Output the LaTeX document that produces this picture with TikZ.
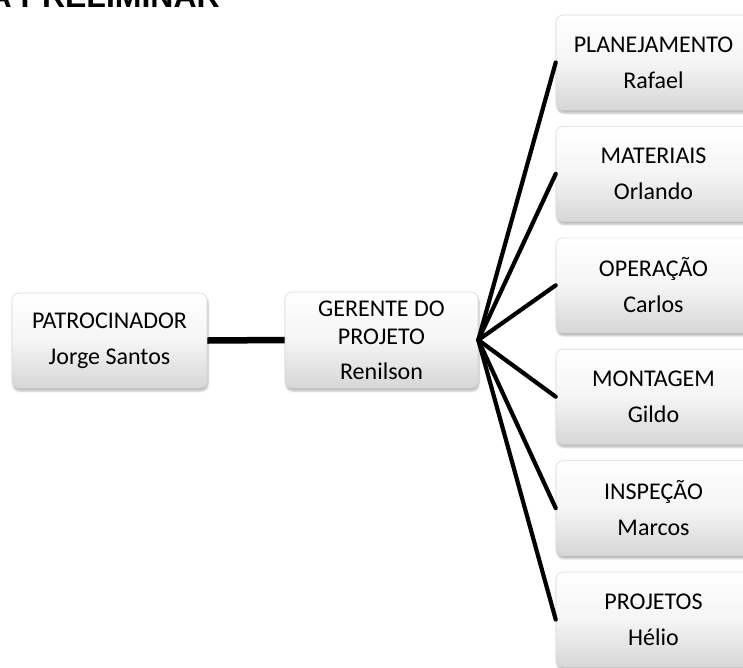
\documentclass[tikz,border=0pt]{standalone}
\usepackage{fontspec}
\setmainfont{Carlito}
\newfontfamily\headfont{Liberation Sans}
\usetikzlibrary{shadows,shadows.blur}

\tikzset{
  orgbox/.style={
    rectangle, rounded corners=7pt,
    minimum width=195pt, minimum height=95pt,
    top color=white, bottom color=gray!32,
    middle color=gray!8,
    draw=gray!30, line width=0.6pt,
    blur shadow={shadow xshift=1pt, shadow yshift=-3pt, shadow blur steps=6, shadow opacity=28},
    align=center, inner sep=0pt,
    font=\fontsize{24}{28}\selectfont
  },
  trunk/.style={line width=6.5pt},
  branch/.style={line width=4.2pt, line cap=round}
}

\begin{document}
\begin{tikzpicture}[x=1pt, y=-1pt]
  \useasboundingbox (0,0) rectangle (743,667);

  % heading, mostly above the visible page
  \node[anchor=base east, inner sep=0pt,
        font=\headfont\bfseries\fontsize{32}{32}\selectfont] (title) at (220,7) {A PRELIMINAR};

  % sponsor and manager
  \node[orgbox] (pat) at (109.5,340.5) {PATROCINADOR\\[8pt]Jorge Santos};
  \node[orgbox, minimum width=193pt, minimum height=96pt] (ger) at (381.5,340)
       {GERENTE DO\\PROJETO\\[7pt]Renilson};

  % areas
  \node[orgbox] (pla) at (653.5,62.5)  {PLANEJAMENTO\\[8pt]Rafael};
  \node[orgbox] (mat) at (653.5,173.9) {MATERIAIS\\[8pt]Orlando};
  \node[orgbox] (ope) at (653.5,285.3) {OPERAÇÃO\\[8pt]Carlos};
  \node[orgbox] (mon) at (653.5,396.7) {MONTAGEM\\[8pt]Gildo};
  \node[orgbox] (ins) at (653.5,508.1) {INSPEÇÃO\\[8pt]Marcos};
  \node[orgbox] (prj) at (653.5,619.5) {PROJETOS\\[8pt]Hélio};

  % connectors
  \draw[trunk] (pat.east) -- (ger.west);
  \foreach \n in {pla,mat,ope,mon,ins,prj}
    \draw[branch] (ger.east) -- (\n.west);
\end{tikzpicture}
\end{document}
